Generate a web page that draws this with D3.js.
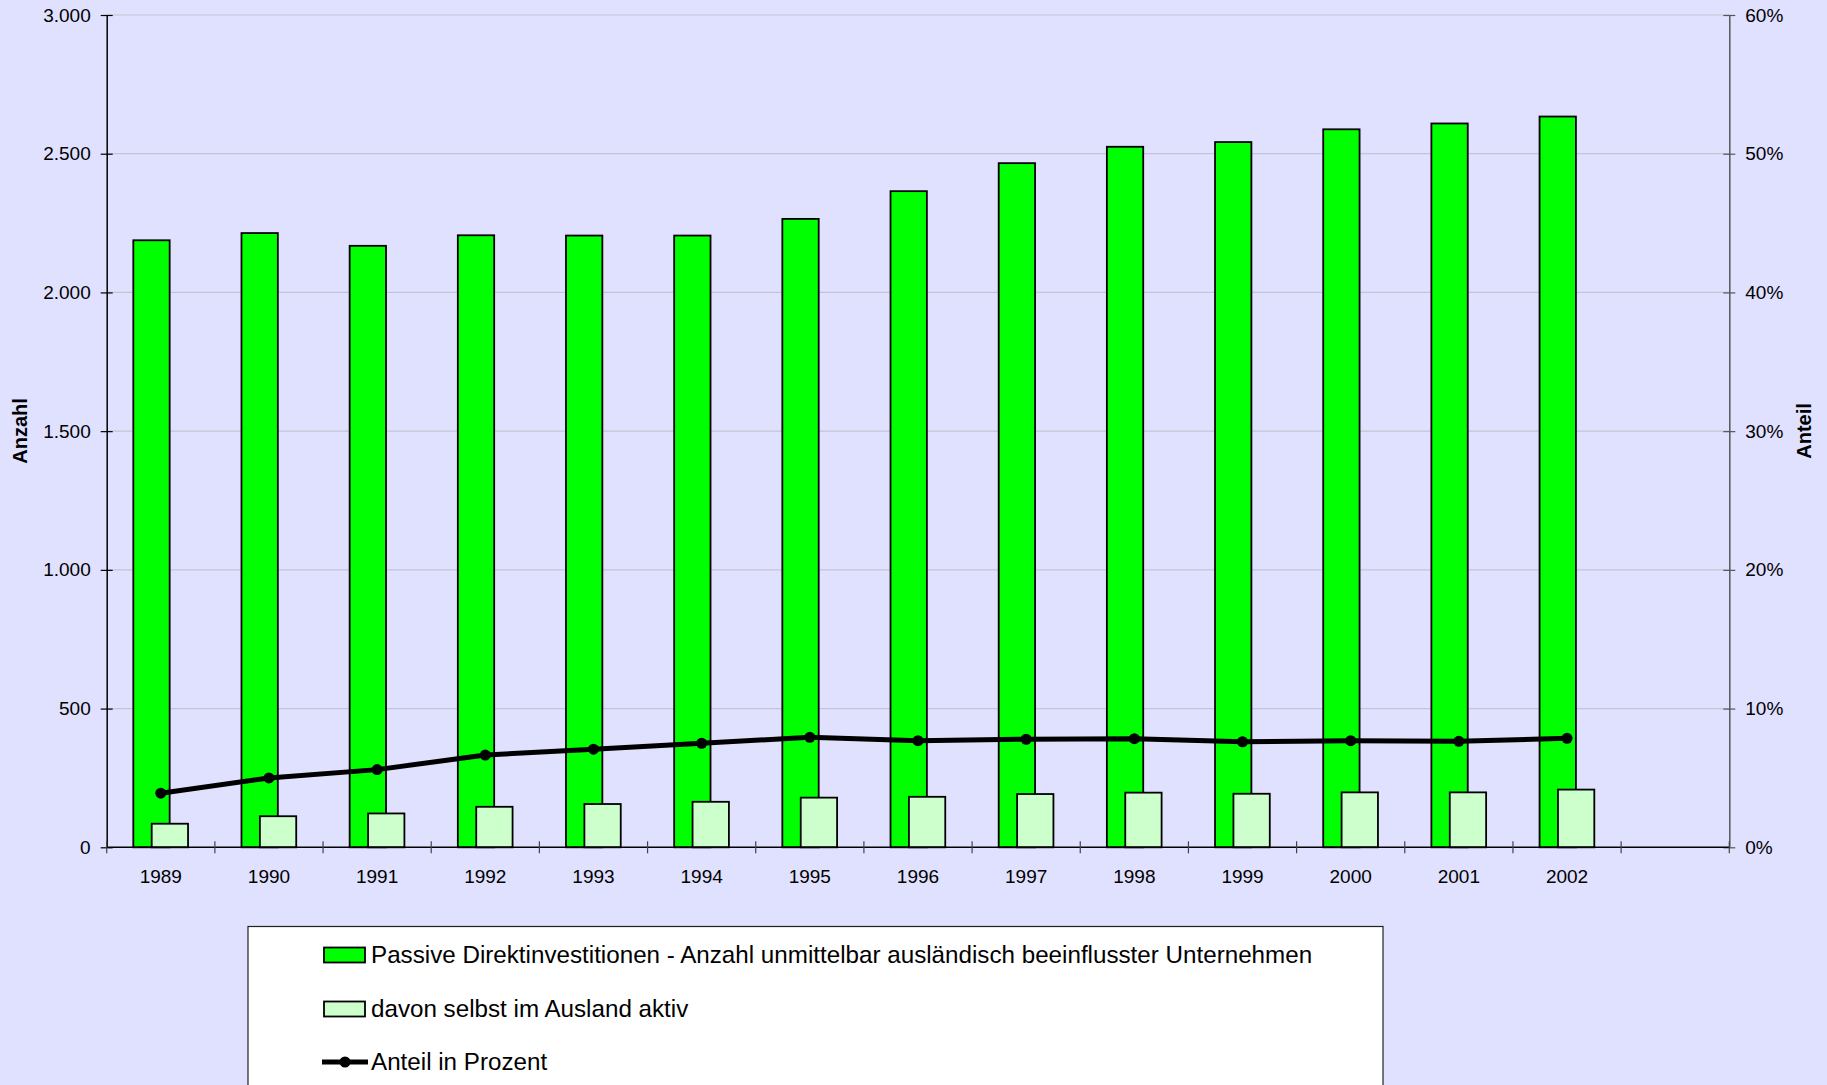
<!DOCTYPE html>
<meta charset="utf-8">
<style>
  body { margin: 0; background: #e0e0ff; }
  svg { display: block; font-family: "Liberation Sans", Arial, sans-serif; }
</style>

<svg width="1827" height="1085"></svg>
<script src="https://cdn.jsdelivr.net/npm/d3@7"></script>
<script>

    // data
    var years = ["1989", "1990", "1991", "1992", "1993", "1994", "1995",
                 "1996", "1997", "1998", "1999", "2000", "2001", "2002"];
    var passive = [2188, 2214, 2168, 2206, 2205, 2205, 2265,
                   2365, 2466, 2525, 2542, 2588, 2609, 2634];
    var aktiv = [85, 112, 122, 146, 156, 164, 179,
                 182, 192, 197, 193, 198, 198, 208];
    var anteil = [3.9, 5.0, 5.6, 6.65, 7.07, 7.5, 7.93,
                  7.69, 7.79, 7.83, 7.61, 7.69, 7.64, 7.86];
    var leftTicks = [0, 500, 1000, 1500, 2000, 2500, 3000];
    var rightTicks = [0, 10, 20, 30, 40, 50, 60];
    var legendLabels = [
        "Passive Direktinvestitionen - Anzahl unmittelbar ausländisch beeinflusster Unternehmen",
        "davon selbst im Ausland aktiv",
        "Anteil in Prozent"
    ];

    var svg = d3.select("svg");
    // plot frame (window.top is reserved, so prefixed names)
    var pLeft = 106.7, pRight = 1729.3, pTop = 15, pBottom = 847.3;

    // one empty slot at the end like the original
    var x = d3.scaleBand()
        .domain(years.concat(["_"]))
        .range([pLeft, pRight])
        .padding(0);
    var bw = x.bandwidth();

    var yL = d3.scaleLinear().domain([0, 3000]).range([pBottom, pTop]);
    var yR = d3.scaleLinear().domain([0, 60]).range([pBottom, pTop]);

    var fmt = function(d) { return d3.format(",")(d).replace(/,/g, "."); };

    // grid
    svg.append("g")
        .selectAll("line")
        .data(leftTicks.slice(1))
        .enter()
        .append("line")
            .attr("x1", pLeft).attr("x2", pRight)
            .attr("y1", function(d) { return yL(d); })
            .attr("y2", function(d) { return yL(d); })
            .style("stroke", "#c4c4d4")
            .style("stroke-width", 1.2);

    // bars
    var barW = bw * 0.336;
    svg.append("g")
        .selectAll("rect")
        .data(passive)
        .enter()
        .append("rect")
            .attr("x", function(d, i) { return x(years[i]) + bw * 0.246; })
            .attr("y", function(d) { return yL(d); })
            .attr("width", barW)
            .attr("height", function(d) { return pBottom - yL(d); })
            .attr("fill", "#00ff00")
            .attr("stroke", "#000")
            .attr("stroke-width", 1.8);

    svg.append("g")
        .selectAll("rect")
        .data(aktiv)
        .enter()
        .append("rect")
            .attr("x", function(d, i) { return x(years[i]) + bw * 0.416; })
            .attr("y", function(d) { return yL(d); })
            .attr("width", barW)
            .attr("height", function(d) { return pBottom - yL(d); })
            .attr("fill", "#ccffcc")
            .attr("stroke", "#000")
            .attr("stroke-width", 1.8);

    // axes
    var axL = d3.axisLeft(yL).tickValues(leftTicks).tickFormat(fmt)
        .tickSizeInner(6).tickSizeOuter(0).tickPadding(10);
    var gL = svg.append("g").attr("transform", "translate(" + pLeft + ",0)").call(axL);

    var axR = d3.axisRight(yR).tickValues(rightTicks)
        .tickFormat(function(d) { return d + "%"; })
        .tickSizeInner(6).tickSizeOuter(0).tickPadding(10);
    var gR = svg.append("g").attr("transform", "translate(" + pRight + ",0)").call(axR);

    var xTicks = x.domain().map(function(d) { return x(d); }).concat([pRight]);
    var gX = svg.append("g");
    gX.append("line")
        .attr("x1", pLeft).attr("x2", pRight)
        .attr("y1", pBottom).attr("y2", pBottom)
        .style("stroke", "#000").style("stroke-width", 1.5);
    gX.selectAll("line.tk")
        .data(xTicks)
        .enter()
        .append("line")
            .attr("class", "tk")
            .attr("x1", function(d) { return d; })
            .attr("x2", function(d) { return d; })
            .attr("y1", pBottom - 6).attr("y2", pBottom + 6)
            .style("stroke", "#444").style("stroke-width", 1.2);
    gX.selectAll("text")
        .data(years)
        .enter()
        .append("text")
            .attr("x", function(d) { return x(d) + bw / 2; })
            .attr("y", pBottom + 36)
            .attr("text-anchor", "middle")
            .style("font-size", "19px")
            .text(function(d) { return d; });

    [gL, gR].forEach(function(g) {
        g.select(".domain").style("stroke-width", 1.5);
        g.selectAll(".tick line").attr("x1", -6).attr("x2", 6).style("stroke-width", 1.2);
        g.selectAll("text").style("font-size", "19px").attr("fill", "#000")
            .attr("font-family", "Liberation Sans, Arial, sans-serif");
    });
    gL.select(".domain").style("stroke", "#000");
    gR.select(".domain").style("stroke", "#555");
    gR.selectAll(".tick line").style("stroke", "#555");

    // line
    var line = d3.line()
        .x(function(d, i) { return x(years[i]) + bw / 2; })
        .y(function(d) { return yR(d); });

    svg.append("path")
        .datum(anteil)
        .attr("d", line)
        .attr("fill", "none")
        .attr("stroke", "#000")
        .attr("stroke-width", 5);

    svg.append("g")
        .selectAll("circle")
        .data(anteil)
        .enter()
        .append("circle")
            .attr("cx", function(d, i) { return x(years[i]) + bw / 2; })
            .attr("cy", function(d) { return yR(d); })
            .attr("r", 5.5)
            .attr("fill", "#000");

    // axis titles
    svg.append("text")
        .attr("transform", "translate(27,431) rotate(-90)")
        .attr("text-anchor", "middle")
        .style("font-size", "20px").style("font-weight", "bold")
        .text("Anzahl");
    svg.append("text")
        .attr("transform", "translate(1811,431) rotate(-90)")
        .attr("text-anchor", "middle")
        .style("font-size", "20px").style("font-weight", "bold")
        .text("Anteil");

    // legend
    var leg = svg.append("g");
    leg.append("rect")
        .attr("x", 248).attr("y", 926.5)
        .attr("width", 1135).attr("height", 200)
        .attr("fill", "#fff")
        .attr("stroke", "#222").attr("stroke-width", 1.2);

    var rowY = [955, 1009, 1062];
    var fills = ["#00ff00", "#ccffcc"];
    fills.forEach(function(f, i) {
        leg.append("rect")
            .attr("x", 324).attr("y", rowY[i] - 7.5)
            .attr("width", 41).attr("height", 15)
            .attr("fill", f).attr("stroke", "#000").attr("stroke-width", 1.8);
    });
    leg.append("line")
        .attr("x1", 322).attr("x2", 368)
        .attr("y1", rowY[2]).attr("y2", rowY[2])
        .attr("stroke", "#000").attr("stroke-width", 5);
    leg.append("circle")
        .attr("cx", 345).attr("cy", rowY[2]).attr("r", 5.5).attr("fill", "#000");

    leg.selectAll("text")
        .data(legendLabels)
        .enter()
        .append("text")
            .attr("x", 371)
            .attr("y", function(d, i) { return rowY[i] + 8; })
            .style("font-size", "24.2px")
            .text(function(d) { return d; });

</script>
